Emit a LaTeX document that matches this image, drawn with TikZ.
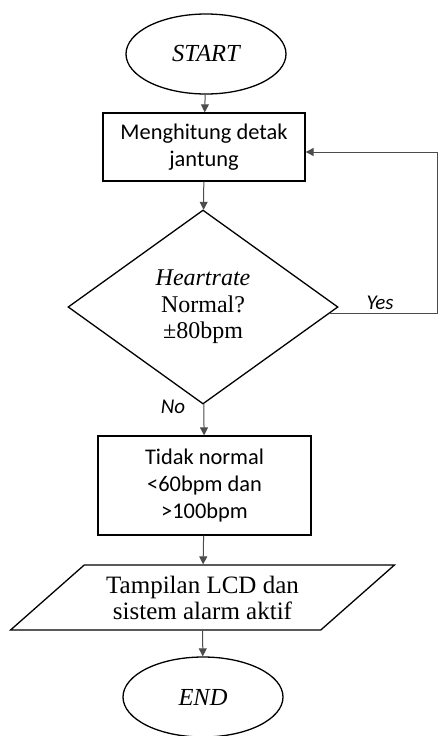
\documentclass[tikz,border=0pt]{standalone}
\usepackage{fontspec}
\setmainfont{Liberation Serif}
\newfontfamily\calibri{Carlito}
\usetikzlibrary{shapes.geometric, arrows.meta}
\begin{document}
\begin{tikzpicture}[x = 1pt, y = 1pt,
		terminal/.style = {draw, line width = 1.3pt, ellipse, minimum width = 160pt, minimum height = 80pt, inner sep = 0pt, font = \fontsize{24.5}{28}\selectfont\itshape},
		process/.style = {draw, line width = 1.3pt, rectangle, align = center, font = \calibri\fontsize{22.4}{27}\selectfont},
		decision/.style = {draw, line width = 1.3pt, diamond, minimum width = 270pt, minimum height = 194pt, inner sep = 0pt, align = center, font = \fontsize{24}{26.5}\selectfont},
		io/.style = {draw, line width = 1.3pt, trapezium, trapezium left angle = 36, trapezium right angle = 144, trapezium stretches = true, minimum width = 385pt, minimum height = 65pt, inner sep = 0pt, align = center, font = \fontsize{25}{26}\selectfont},
		flow/.style = {black!70, line width = 1pt, -{Triangle[length = 8pt, width = 8pt]}},
		answer/.style = {font = \calibri\fontsize{21}{24}\selectfont\itshape}]
	\useasboundingbox (0, 0) rectangle (439, -736);
	\node[terminal] (start) at (206, -54) {START};
	\node[process, minimum width = 202pt, minimum height = 68pt] (count) at (204, -147) {Menghitung detak\\jantung};
	\node[decision] (check) at (203, -307) {\textit{Heartrate}\\Normal?\\±80bpm};
	\node[process, minimum width = 213pt, minimum height = 99pt] (abnormal) at (204.5, -485.5) {Tidak normal\\<60bpm dan\\>100bpm};
	\node[io] (show) at (202.5, -597.5) {Tampilan LCD dan\\sistem alarm aktif};
	\node[terminal] (finish) at (203, -697) {END};
	\node[answer] (yes) at (380, -303) {Yes};
	\node[answer] (no) at (173, -407) {No};
	\coordinate (loop) at (437, 0);
	\draw[flow] (start) -- (count);
	\draw[flow] (count) -- (check);
	\draw[flow] (check) -- (abnormal);
	\draw[flow] (abnormal) -- (show);
	\draw[flow] (show) -- (finish);
	\draw[flow] (check.-3.5) -- (check.-3.5 -| loop) -- ([yshift = -5pt]count.east -| loop) -- ([yshift = -5pt]count.east);
\end{tikzpicture}
\end{document}
